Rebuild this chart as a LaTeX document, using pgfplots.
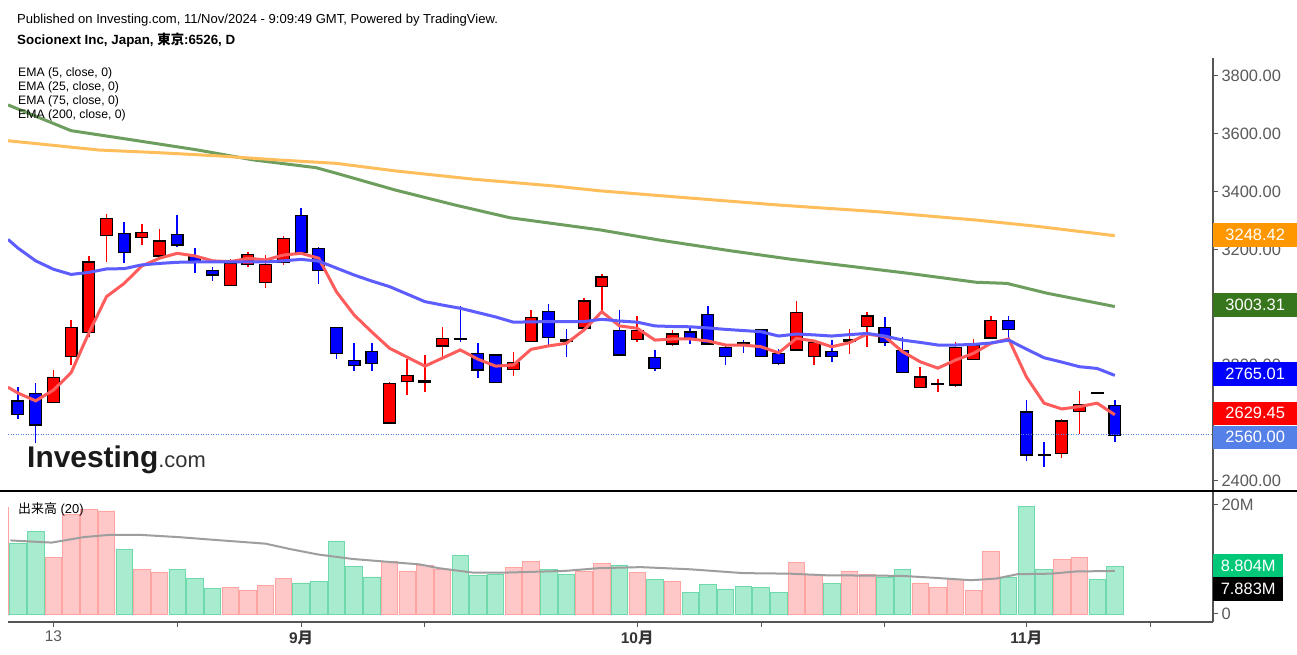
\documentclass[border=0pt]{standalone}
\usepackage{fontspec}
\setmainfont{Liberation Sans}
\newfontfamily\cjk{Noto Sans CJK JP}
\usepackage{pgfplots}
\pgfplotsset{compat=1.18}
\usepackage{pgfplotstable}

\definecolor{upc}{HTML}{FF0000}
\definecolor{dnc}{HTML}{0000FF}
\definecolor{volup}{HTML}{FFC8C8}
\definecolor{volupd}{HTML}{FFA3A3}
\definecolor{voldn}{HTML}{A8ECCF}
\definecolor{voldnd}{HTML}{6FD9AB}
\definecolor{emaa}{HTML}{FF5C5C}
\definecolor{emab}{HTML}{5C5CFF}
\definecolor{emac}{HTML}{6E9E5E}
\definecolor{emad}{HTML}{FFBE5C}
\definecolor{axc}{HTML}{555555}
\definecolor{tkc}{HTML}{5A5A5A}
\definecolor{monc}{HTML}{333333}
\definecolor{boxorange}{HTML}{FF9800}
\definecolor{boxgreen}{HTML}{38761D}
\definecolor{boxcorn}{HTML}{5580E8}
\definecolor{boxvol}{HTML}{00C878}
\definecolor{vma}{HTML}{9E9E9E}

\newcommand\lblfont{\fontsize{16.5}{18}\selectfont}

% daily candles, red = up, blue = down; v in millions
\pgfplotstableread{
x  o    h    l    c    v
2  2674 2784 2670 2755 10.4
3  2833 2956 2801 2928 18.3
4  2916 3178 2899 3155 19.2
5  3250 3323 3158 3305 18.9
7  3243 3287 3216 3258 8.2
8  3180 3270 3170 3227 7.6
12 3077 3166 3077 3150 4.9
13 3150 3193 3139 3180 4.4
14 3088 3181 3066 3146 5.2
15 3157 3247 3147 3237 6.5
21 2603 2743 2600 2735 9.6
22 2746 2821 2697 2762 7.9
23 2744 2835 2707 2744 9.0
24 2869 2933 2830 2891 8.2
28 2787 2846 2764 2807 8.5
29 2885 2991 2885 2962 9.6
32 2931 3031 2931 3020 7.9
33 3074 3116 2985 3103 9.3
35 2890 2970 2882 2917 7.6
37 2876 2922 2868 2906 5.9
44 2855 3022 2855 2980 9.5
45 2833 2878 2801 2876 7.2
47 2886 2924 2838 2886 7.9
48 2937 2985 2862 2968 7.3
51 2725 2793 2725 2757 5.7
52 2735 2752 2707 2735 4.8
53 2734 2882 2724 2859 6.3
54 2823 2892 2823 2867 4.3
55 2896 2970 2896 2953 11.4
59 2498 2613 2478 2605 10.0
60 2642 2711 2562 2663 10.3
}\upbars

\pgfplotstableread{
x  o    h    l    c    v
0  2674 2726 2613 2631 12.9
1  2700 2738 2530 2596 15.1
6  3254 3296 3152 3192 11.8
9  3249 3318 3210 3218 8.2
10 3175 3204 3118 3160 6.5
11 3125 3141 3091 3114 4.7
16 3316 3343 3192 3192 5.7
17 3201 3210 3080 3129 6.0
18 2928 2930 2821 2843 13.4
19 2814 2876 2780 2802 8.7
20 2845 2876 2780 2807 6.8
25 2890 3006 2882 2890 10.7
26 2838 2876 2755 2786 7.1
27 2833 2835 2738 2743 7.3
30 2983 3012 2862 2897 8.2
31 2885 2924 2830 2885 7.3
34 2918 2991 2838 2838 9.0
36 2824 2853 2780 2792 6.4
38 2913 2928 2873 2890 4.0
39 2974 3006 2876 2876 5.4
40 2859 2870 2801 2833 4.6
41 2876 2887 2841 2876 5.1
42 2922 2925 2830 2833 4.8
43 2838 2855 2801 2809 4.0
46 2845 2887 2810 2833 5.6
49 2928 2966 2868 2882 6.8
50 2850 2897 2775 2777 8.1
56 2953 2970 2887 2926 6.8
57 2636 2680 2469 2492 19.7
58 2489 2536 2447 2489 8.1
61 2705 2705 2705 2705 6.4
62 2659 2680 2536 2560 8.804
}\dnbars

\pgfplotsset{
  wick/.style={only marks, mark=*, mark size=0pt, mark options={draw=none, fill=none}, forget plot,
    error bars/.cd, y dir=both, y explicit, error mark=none,
    error bar style={draw=#1, line width=1.5bp}},
  body/.style 2 args={only marks, mark=*, mark size=0pt, mark options={draw=none, fill=none}, forget plot,
    error bars/.cd, y dir=both, y explicit, error mark=none,
    error bar style={draw=#1, line width=#2}},
}

\begin{document}
\begin{tikzpicture}[x=1bp,y=1bp]
\useasboundingbox (0,0) rectangle (1297,655);
\fill[white] (0,0) rectangle (1297,655);

% ---- price panel
\begin{axis}[
  at={(8bp,164bp)}, anchor=south west,
  width=1205bp, height=433bp, scale only axis,
  xmin=-0.565, xmax=67.55, ymin=2365.4, ymax=3862.2,
  axis x line=none, axis y line*=right,
  axis line style={draw=axc, line width=1.3bp},
  ytick={2400,2600,2800,3000,3200,3400,3600,3800},
  yticklabels={2400.00,,2800.00,,3200.00,3400.00,3600.00,3800.00},
  yticklabel style={font=\lblfont, text=tkc},
  ytick style={draw=axc, line width=1bp},
  tick align=outside, major tick length=5bp,
  clip mode=individual,
]
% wicks
\addplot[wick=upc] table[x=x, y expr={(\thisrow{h}+\thisrow{l})/2}, y error expr={(\thisrow{h}-\thisrow{l})/2}] {\upbars};
\addplot[wick=dnc] table[x=x, y expr={(\thisrow{h}+\thisrow{l})/2}, y error expr={(\thisrow{h}-\thisrow{l})/2}] {\dnbars};
% bodies: black frame, then colour
\addplot[body={black}{13bp}] table[x=x, y expr={(\thisrow{o}+\thisrow{c})/2}, y error expr={abs(\thisrow{c}-\thisrow{o})/2+4.3}] {\upbars};
\addplot[body={black}{13bp}] table[x=x, y expr={(\thisrow{o}+\thisrow{c})/2}, y error expr={abs(\thisrow{c}-\thisrow{o})/2+4.3}] {\dnbars};
\addplot[body={upc}{10.5bp}] table[x=x, y expr={(\thisrow{o}+\thisrow{c})/2}, y error expr={abs(\thisrow{c}-\thisrow{o})/2}] {\upbars};
\addplot[body={dnc}{10.5bp}] table[x=x, y expr={(\thisrow{o}+\thisrow{c})/2}, y error expr={abs(\thisrow{c}-\thisrow{o})/2}] {\dnbars};

% last price line
\addplot[boxcorn, line width=0.8bp, dash pattern=on 1bp off 1.5bp] coordinates {(-0.565,2560) (67.55,2560)};

% EMA 5
\addplot[emaa, line width=3bp] coordinates {
(-0.565,2724) (0,2704) (1,2677) (2,2714) (3,2774) (4,2911) (5,3037) (6,3083) (7,3143) (8,3170)
(9,3187) (10,3178) (11,3161) (12,3158) (13,3170) (14,3164) (15,3181) (16,3187) (17,3170) (18,3054)
(19,2974) (20,2915) (21,2859) (22,2828) (23,2797) (24,2825) (25,2853) (26,2821) (27,2797) (28,2801)
(29,2855) (30,2867) (31,2876) (32,2922) (33,2985) (34,2936) (35,2928) (36,2887) (37,2891) (38,2891)
(39,2884) (40,2870) (41,2870) (42,2864) (43,2843) (44,2893) (45,2884) (46,2864) (47,2878) (48,2908)
(49,2899) (50,2847) (51,2812) (52,2790) (53,2818) (54,2841) (55,2876) (56,2891) (57,2760) (58,2669)
(59,2649) (60,2657) (61,2669) (62,2629)};
% EMA 25
\addplot[emab, line width=3bp] coordinates {
(-0.565,3235) (0,3205) (1,3161) (2,3132) (3,3114) (4,3121) (5,3133) (6,3134) (7,3147) (8,3152)
(9,3156) (10,3157) (11,3157) (12,3157) (13,3157) (14,3157) (15,3161) (16,3166) (17,3160) (18,3136)
(19,3112) (20,3091) (21,3072) (22,3046) (23,3020) (24,3008) (25,2997) (26,2982) (27,2967) (28,2949)
(29,2950) (30,2951) (31,2951) (32,2951) (33,2959) (34,2953) (35,2949) (36,2936) (37,2934) (38,2933)
(39,2929) (40,2924) (41,2920) (42,2916) (43,2901) (44,2908) (45,2905) (46,2901) (47,2906) (48,2910)
(49,2901) (50,2887) (51,2879) (52,2870) (53,2870) (54,2872) (55,2877) (56,2887) (57,2856) (58,2826)
(59,2811) (60,2795) (61,2789) (62,2765)};
% EMA 75
\addplot[emac, line width=3bp] coordinates {
(-0.565,3700) (3.0,3611) (6.78,3576) (10.18,3544) (13.28,3510) (16.85,3483) (17.98,3464)
(21.31,3406) (24.7,3354) (27.81,3310) (32.9,3268) (36.24,3233) (40.25,3196) (43.64,3167)
(47.2,3141) (50.31,3118) (54.15,3087) (55.9,3083) (58.17,3049) (62,3003)};
% EMA 200
\addplot[emad, line width=3bp] coordinates {
(-0.565,3576) (1.24,3565) (4.58,3544) (7.91,3535) (11.25,3524) (14.64,3510) (17.98,3498)
(21.31,3472) (25.78,3443) (30.24,3420) (32.9,3403) (37.37,3381) (42.96,3354) (48.56,3331)
(54.15,3302) (57.49,3281) (62,3248)};

% value tags on the price scale
\tikzset{tag/.style={fill=#1, text=white, anchor=west, minimum width=84bp, minimum height=23.3bp, inner sep=0pt, font=\lblfont}}
\node[tag=boxorange] at (axis cs:67.55,3250) {3248.42};
\node[tag=boxgreen] at (axis cs:67.55,3008) {3003.31};
\node[tag=dnc] at (axis cs:67.55,2770) {2765.01};
\node[tag=upc] at (axis cs:67.55,2634) {2629.45};
\node[tag=boxcorn] at (axis cs:67.55,2551) {2560.00};
\end{axis}

% ---- volume panel
\begin{axis}[
  at={(8bp,33bp)}, anchor=south west,
  width=1205bp, height=130bp, scale only axis,
  xmin=-0.565, xmax=67.55, ymin=-1.468, ymax=22.385,
  axis x line*=bottom, axis y line*=right,
  axis line style={draw=axc, line width=1.3bp},
  xtick={2,9,16,23,35,42,49,57,64},
  xticklabels={13,,{\color{monc}\bfseries 9\cjk 月},,{\color{monc}\bfseries 10\cjk 月},,,{\color{monc}\bfseries 11\cjk 月},},
  ytick={0,20}, yticklabels={0,20M},
  ticklabel style={font=\lblfont, text=tkc},
  xticklabel style={font=\fontsize{15.5}{18}\selectfont},
  tick style={draw=axc, line width=1bp},
  tick align=outside, major tick length=5bp,
  clip mode=individual,
]
\addplot[ybar, bar width=0.93, bar shift=0pt, fill=volup, draw=volupd, line width=0.8bp] table[x=x, y=v] {\upbars};
\addplot[ybar, bar width=0.93, bar shift=0pt, fill=voldn, draw=voldnd, line width=0.8bp] table[x=x, y=v] {\dnbars};
\addplot[ybar, bar width=0.93, bar shift=0pt, fill=volup, draw=volupd, line width=0.8bp] coordinates {(-1,19.6)};
% volume MA (20)
\addplot[vma, line width=2bp] coordinates {
(-0.43,13.5) (1.9,13.1) (3.7,14.1) (5.1,14.5) (7.0,14.5) (9.1,14.1) (11.1,13.6) (14.0,12.9)
(15.4,11.9) (17.0,10.9) (18.9,10.1) (20.8,9.6) (22.7,9.1) (23.8,8.4) (25.7,7.6) (27.6,7.6)
(30.9,7.9) (32.8,8.4) (35.2,8.6) (38.0,8.2) (41.0,7.5) (43.6,7.4) (45.7,7.1) (49.9,7.0)
(51.5,6.7) (53.9,6.2) (55.3,6.5) (56.5,7.3) (58.4,7.4) (59.8,7.8) (62,7.9)};
\tikzset{vtag/.style={fill=#1, text=white, anchor=west, minimum width=70bp, minimum height=23.3bp, inner sep=0pt, font=\lblfont}}
\node[vtag=boxvol] at (axis cs:67.55,8.86) {8.804M};
\node[vtag=black] at (axis cs:67.55,4.59) {7.883M};
\end{axis}

% panel separator
\draw[black, line width=2bp] (0,164) -- (1297,164);

% header texts
\node[anchor=base west, inner sep=0pt, font=\fontsize{13.1}{15}\selectfont] at (17,631)
  {Published on Investing.com, 11/Nov/2024 - 9:09:49 GMT, Powered by TradingView.};
\node[anchor=base west, inner sep=0pt, font=\fontsize{13.4}{15}\selectfont\bfseries] at (17,610)
  {Socionext Inc, Japan, {\cjk 東京}:6526, D};
\begin{scope}[every node/.style={anchor=base west, inner sep=0pt, font=\fontsize{12.3}{14}\selectfont}]
\node at (18,578) {EMA (5, close, 0)};
\node at (18,564) {EMA (25, close, 0)};
\node at (18,550) {EMA (75, close, 0)};
\node at (18,536) {EMA (200, close, 0)};
\node[font=\fontsize{13}{15}\selectfont] at (18,141) {{\cjk 出来高} (20)};
\end{scope}
% watermark
\node[anchor=base west, inner sep=0pt] at (27,187)
  {\fontsize{30}{30}\selectfont\bfseries\color[HTML]{1A1A1A}Investing{\fontsize{22}{22}\selectfont\mdseries\color[HTML]{333333}.com}};
\end{tikzpicture}
\end{document}
